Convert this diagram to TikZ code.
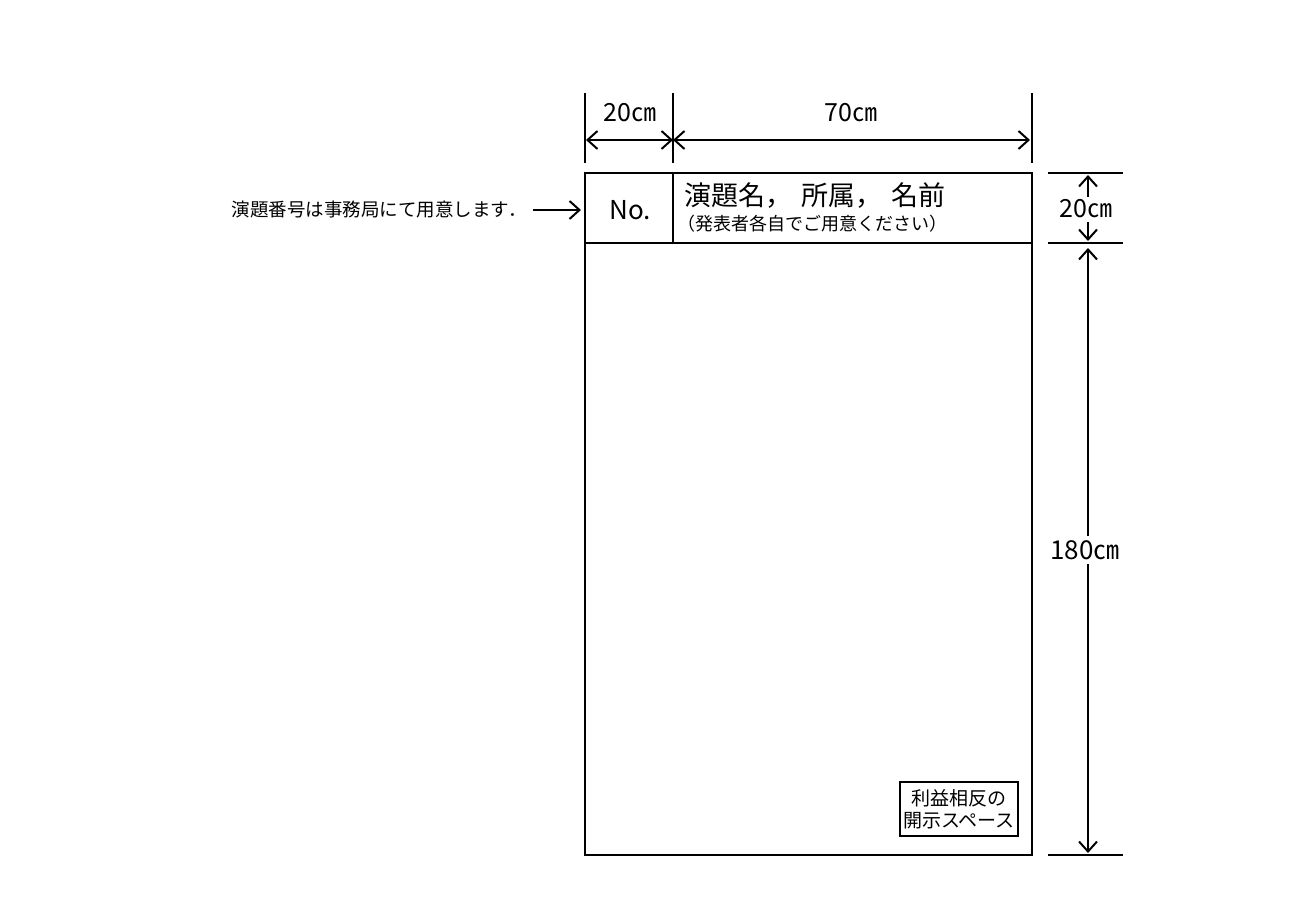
\documentclass[tikz,border=0pt]{standalone}
\usepackage{fontspec}
\setmainfont{Noto Sans CJK JP}
\usetikzlibrary{arrows.meta}

\begin{document}
\begin{tikzpicture}[x=1pt, y=-1pt,
  frame/.style={line width=2.3pt},
  ext/.style={line width=2pt},
  dim/.style={line width=2pt, {Straight Barb[length=10pt,width=18pt]}-{Straight Barb[length=10pt,width=18pt]}},
  dimone/.style={line width=2pt, -{Straight Barb[length=10pt,width=18pt]}},
  dimlabel/.style={inner sep=1pt, font=\fontsize{25}{28}\selectfont}]
\useasboundingbox (0,0) rectangle (1299,907);
% poster frame
\draw[frame] (585,173) rectangle (1032,855);
\draw[frame] (585,243) -- (1032,243);
\draw[frame] (673,173) -- (673,243);
% header texts
\node[font=\fontsize{26}{28}\selectfont] (no) at (630,210) {No.};
\node[anchor=west, inner sep=0pt, font=\fontsize{27}{30}\selectfont] (title) at (684,196) {演題名，\hspace{9pt}所属，\hspace{9pt}名前};
\node[anchor=west, inner sep=0pt, font=\fontsize{18}{20}\selectfont] (sub) at (677,224) {（発表者各自でご用意ください）};
% number note
\node[anchor=east, inner sep=0pt, font=\fontsize{18.5}{20}\selectfont] (note) at (527,210) {演題番号は事務局にて用意します．};
\coordinate (noteend) at (581,210);
\draw[dimone] (note.east) ++(6,0) coordinate (notestart) (notestart) -- (noteend);
% COI box
\node[draw, line width=1.6pt, align=center, inner sep=2pt, minimum width=118pt, minimum height=54pt,
  font=\fontsize{19}{22}\selectfont] (coi) at (959,809) {利益相反の\\開示スペース};
% top dimensions
\draw[ext] (585,93) -- (585,163);
\draw[ext] (673,93) -- (673,163);
\draw[ext] (1032,93) -- (1032,163);
\coordinate (ta) at (586,140);
\coordinate (tb) at (673,140);
\coordinate (tc) at (1030,140);
\draw[dim] (ta) -- (tb);
\draw[dim] (tb) -- (tc);
\node[dimlabel] (w20) at (630,113) {20㎝};
\node[dimlabel] (w70) at (851,113) {70㎝};
% right dimensions
\draw[ext] (1048,173) -- (1123,173);
\draw[ext] (1048,243) -- (1123,243);
\draw[ext] (1048,855) -- (1123,855);
\node[dimlabel] (h20) at (1086,209) {20㎝};
\coordinate (ra) at (1088,175);
\coordinate (rb) at (1088,241);
\draw[dimone] (1088,197) -- (ra);
\draw[dimone] (1088,222) -- (rb);
\node[dimlabel, inner sep=4pt, font=\fontsize{26}{28}\selectfont] (h180) at (1085,550) {180㎝};
\coordinate (rc) at (1088,248);
\coordinate (rd) at (1088,853);
\draw[dimone] (h180.north -| rc) -- (rc);
\draw[dimone] (h180.south -| rd) -- (rd);
\end{tikzpicture}
\end{document}
